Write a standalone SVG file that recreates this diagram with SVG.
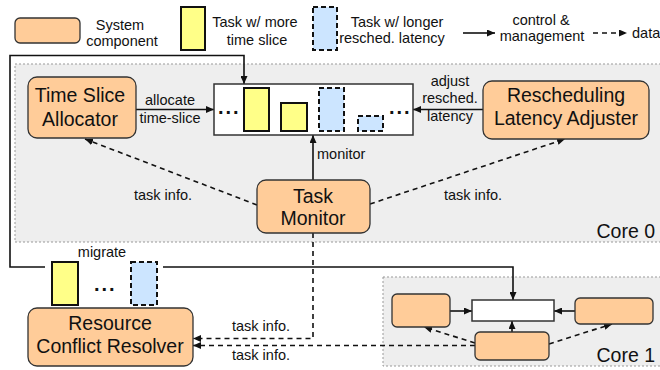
<svg xmlns="http://www.w3.org/2000/svg" width="660" height="370" viewBox="0 0 660 370">
<style>
text{font-family:"Liberation Sans",Arial,sans-serif;fill:#111}
.lbl{font-size:14.5px}
.big{font-size:19.5px;text-anchor:middle}
.mid{text-anchor:middle}
.comp{fill:#FFCC99;stroke:#333;stroke-width:1.3}
.yel{fill:#FFFF88;stroke:#111;stroke-width:2}
.blu{fill:#CCE5FF;stroke:#111;stroke-width:2;stroke-dasharray:5 3}
.queue{fill:#fff;stroke:#333;stroke-width:1.5}
.core{fill:#EEEEEE;stroke:#999;stroke-width:1;stroke-dasharray:2 2}
.sol{fill:none;stroke:#111;stroke-width:1.6}
.dash{fill:none;stroke:#111;stroke-width:1.6;stroke-dasharray:5 4}
.dots{font-size:20px;font-weight:bold;letter-spacing:2px}
</style>
<defs>
<marker id="ah" markerUnits="userSpaceOnUse" markerWidth="8" markerHeight="7" refX="8" refY="3.5" orient="auto">
<path d="M0,0 L8,3.5 L0,7 z" fill="#111" stroke="none"/>
</marker>
</defs>

<g id="core0-region">
<rect class="core" x="15" y="64" width="650" height="178"/>
<text x="655" y="238" style="font-size:19.5px;text-anchor:end">Core 0</text>
</g>
<g id="core1-region">
<rect class="core" x="383" y="277" width="282" height="89"/>
<text x="655" y="362" style="font-size:19.5px;text-anchor:end">Core 1</text>
</g>

<g id="legend">
<rect class="comp" x="15" y="18" width="65" height="25" rx="5"/>
<text class="lbl mid" x="120" y="30">System</text>
<text class="lbl mid" x="122" y="46">component</text>
<rect class="yel" x="181" y="7" width="24" height="43"/>
<text class="lbl mid" x="255" y="27">Task w/ more</text>
<text class="lbl mid" x="257" y="45">time slice</text>
<rect class="blu" x="313" y="7" width="24" height="43"/>
<text class="lbl mid" x="397" y="27">Task w/ longer</text>
<text class="lbl mid" x="392" y="43">resched. latency</text>
<line class="sol" x1="463" y1="33" x2="495" y2="33" marker-end="url(#ah)"/>
<text class="lbl mid" x="541" y="25">control &amp;</text>
<text class="lbl mid" x="542" y="41">management</text>
<line class="dash" x1="593" y1="33" x2="627" y2="33" marker-end="url(#ah)"/>
<text class="lbl" x="632" y="38">data</text>
</g>

<g id="connectors">
<polyline class="sol" points="45,267 10,267 10,55.5 244,55.5 244,84" marker-end="url(#ah)"/>
<polyline class="sol" points="163,267 513,267 513,300" marker-end="url(#ah)"/>
<line class="sol" x1="136" y1="109.5" x2="214" y2="109.5" marker-end="url(#ah)"/>
<line class="sol" x1="483" y1="109.5" x2="413" y2="109.5" marker-end="url(#ah)"/>
<line class="sol" x1="313" y1="180" x2="313" y2="135" marker-end="url(#ah)"/>
<line class="dash" x1="257" y1="205" x2="85" y2="139" marker-end="url(#ah)"/>
<line class="dash" x1="370" y1="204" x2="565" y2="139" marker-end="url(#ah)"/>
<polyline class="dash" points="313,233 313,338.5 193,338.5" marker-end="url(#ah)"/>
<line class="dash" x1="475" y1="345.5" x2="193" y2="345.5" marker-end="url(#ah)"/>
<line class="sol" x1="450" y1="311" x2="472" y2="311" marker-end="url(#ah)"/>
<line class="sol" x1="575" y1="311" x2="554" y2="311" marker-end="url(#ah)"/>
<line class="sol" x1="512" y1="332" x2="512" y2="321" marker-end="url(#ah)"/>
<line class="dash" x1="475" y1="343" x2="424" y2="327" marker-end="url(#ah)"/>
<line class="dash" x1="549" y1="344" x2="612" y2="324" marker-end="url(#ah)"/>
<text class="lbl mid" x="170" y="105">allocate</text>
<text class="lbl mid" x="170" y="123">time-slice</text>
<text class="lbl mid" x="450" y="86">adjust</text>
<text class="lbl mid" x="450" y="103">resched.</text>
<text class="lbl mid" x="450" y="121">latency</text>
<text class="lbl" x="317" y="159">monitor</text>
<text class="lbl mid" x="163" y="200">task info.</text>
<text class="lbl mid" x="473" y="200">task info.</text>
<text class="lbl mid" x="261" y="331">task info.</text>
<text class="lbl mid" x="261" y="360">task info.</text>
<text class="lbl mid" x="102" y="257">migrate</text>
</g>

<g id="queue0">
<rect class="queue" x="214" y="84" width="199" height="51"/>
<text class="dots" x="218" y="114">...</text>
<rect class="yel" x="244" y="88" width="25" height="43"/>
<rect class="yel" x="281" y="103" width="26" height="28"/>
<rect class="blu" x="319" y="88" width="25" height="43"/>
<rect class="blu" x="358" y="116" width="25" height="15"/>
<text class="dots" x="389" y="114">...</text>
</g>

<g id="time-slice-allocator">
<rect class="comp" x="28" y="77" width="108" height="61" rx="9"/>
<text class="big" x="80" y="102">Time Slice</text>
<text class="big" x="80" y="126">Allocator</text>
</g>
<g id="rescheduling-latency-adjuster">
<rect class="comp" x="483" y="81" width="166" height="58" rx="9"/>
<text class="big" x="566" y="102">Rescheduling</text>
<text class="big" x="566" y="125">Latency Adjuster</text>
</g>
<g id="task-monitor">
<rect class="comp" x="257" y="180" width="113" height="53" rx="9"/>
<text class="big" x="313" y="203">Task</text>
<text class="big" x="313" y="225">Monitor</text>
</g>
<g id="resource-conflict-resolver">
<rect class="comp" x="28" y="308" width="165" height="58" rx="9"/>
<text class="big" x="110" y="330">Resource</text>
<text class="big" x="110" y="353">Conflict Resolver</text>
</g>
<g id="migrate-tasks">
<rect class="yel" x="52" y="262" width="26" height="43"/>
<text class="dots" x="94" y="291">...</text>
<rect class="blu" x="131" y="262" width="26" height="43"/>
</g>

<g id="core1-allocator"><rect class="comp" x="392" y="294" width="58" height="33" rx="5"/></g>
<g id="core1-queue"><rect class="queue" x="472" y="300" width="82" height="21"/></g>
<g id="core1-adjuster"><rect class="comp" x="575" y="298" width="78" height="26" rx="5"/></g>
<g id="core1-monitor"><rect class="comp" x="475" y="332" width="74" height="28" rx="5"/></g>
</svg>
